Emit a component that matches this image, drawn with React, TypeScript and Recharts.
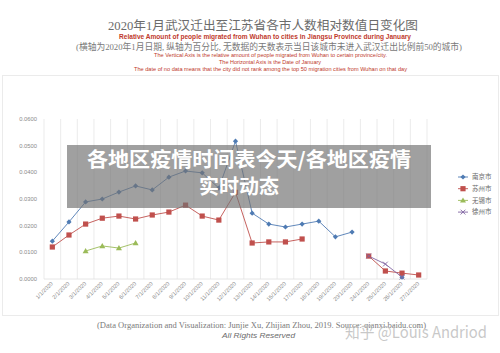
import React from 'react';
import { LineChart, Line, XAxis, YAxis, CartesianGrid } from 'recharts';

const categories = ['1/1/2020','2/1/2020','3/1/2020','4/1/2020','5/1/2020','6/1/2020','7/1/2020','8/1/2020','9/1/2020','10/1/2020','11/1/2020','12/1/2020','13/1/2020','14/1/2020','15/1/2020','17/1/2020','18/1/2020','19/1/2020','20/1/2020','24/1/2020','25/1/2020','26/1/2020','27/1/2020'];

const nanjing = [0.0142,0.0214,0.0289,0.0300,0.0326,0.0349,0.0334,0.0382,0.0405,0.0398,0.0341,0.0517,0.0247,0.0206,0.0195,0.0206,0.0217,0.0158,0.0176,null,null,0.0007,null];
const suzhou = [0.0120,0.0165,0.0206,0.0228,0.0236,0.0225,0.0240,0.0251,0.0277,0.0236,0.0221,0.0325,0.0135,0.0139,0.0139,0.0150,null,null,null,0.0086,0.0030,0.0022,0.0015];
const wuxi = [null,null,0.0105,0.0124,0.0116,0.0135,null,null,null,null,null,null,null,null,null,null,null,null,null,null,null,null,null];
const xuzhou = [null,null,null,null,null,null,null,null,null,null,null,null,null,null,null,null,null,null,null,0.0086,0.0056,0.0007,null];

const yTicks = [0, 0.01, 0.02, 0.03, 0.04, 0.05, 0.06];

const seriesDefs = [
  { key: 'nanjing', name: '南京市', color: '#4f7bb3', marker: 'diamond' },
  { key: 'suzhou', name: '苏州市', color: '#c0504d', marker: 'square' },
  { key: 'wuxi', name: '无锡市', color: '#9bbb59', marker: 'triangle' },
  { key: 'xuzhou', name: '徐州市', color: '#8064a2', marker: 'cross' },
];

const data = categories.map((c, i) => ({
  date: c,
  nanjing: nanjing[i],
  suzhou: suzhou[i],
  wuxi: wuxi[i],
  xuzhou: xuzhou[i],
}));

function MarkerShape({ type, cx, cy, color }: any) {
  const s = 2.6;
  if (type === 'diamond') {
    return <path d={`M${cx},${cy - s}L${cx + s},${cy}L${cx},${cy + s}L${cx - s},${cy}Z`} fill={color} />;
  }
  if (type === 'square') {
    return <rect x={cx - 2.6} y={cy - 2.6} width={5.2} height={5.2} fill={color} />;
  }
  if (type === 'triangle') {
    return <path d={`M${cx},${cy - 3}L${cx + 3},${cy + 2.2}L${cx - 3},${cy + 2.2}Z`} fill={color} />;
  }
  return (
    <g stroke={color} strokeWidth={0.9}>
      <line x1={cx - 2.4} y1={cy - 2.4} x2={cx + 2.4} y2={cy + 2.4} />
      <line x1={cx - 2.4} y1={cy + 2.4} x2={cx + 2.4} y2={cy - 2.4} />
    </g>
  );
}

const makeDot = (type: string, color: string) => (props: any) => {
  const { cx, cy, value, index } = props;
  if (value == null || cx == null || cy == null) return <g key={`d-${type}-${index}`} />;
  return <g key={`d-${type}-${index}`}><MarkerShape type={type} cx={cx} cy={cy} color={color} /></g>;
};

const XTick = (props: any) => {
  const { x, y, payload } = props;
  return (
    <g transform={`translate(${x + 1},${y})`}>
      <text x={0} y={0} textAnchor="end" fontSize={5.6} fill="#8a8a8a" fontFamily="Liberation Sans, Arial, sans-serif" transform="rotate(-45)">
        {payload.value}
      </text>
    </g>
  );
};

const serif = '"Liberation Serif", "Noto Sans CJK SC", serif';
const sans = '"Liberation Sans", "Noto Sans CJK SC", sans-serif';

export default function App() {
  return (
    <div style={{ position: 'fixed', left: 0, top: 0, width: 500, height: 353, background: '#fff', overflow: 'hidden' }}>
      <div style={{ position: 'absolute', left: 2, top: 75, width: 495, height: 239, border: '1px solid #ebebeb', background: '#fff' }} />
      <div style={{ position: 'absolute', left: 0, top: 0 }}>
        <LineChart width={500} height={353} data={data} margin={{ top: 119, right: 73, bottom: 34, left: 0 }}>
          <CartesianGrid
            horizontal={false}
            stroke="#e6e6e6"
            strokeWidth={0.8}
            verticalCoordinatesGenerator={({ offset }: any) =>
              Array.from({ length: categories.length + 1 }, (_, i) => offset.left + (offset.width * i) / categories.length)
            }
          />
          <XAxis
            dataKey="date"
            scale="band"
            interval={0}
            height={40}
            tickSize={0}
            tickMargin={5}
            tickLine={false}
            axisLine={{ stroke: '#e0e0e0', strokeWidth: 0.8 }}
            tick={<XTick />}
          />
          <YAxis
            width={44}
            domain={[0, 0.06]}
            ticks={yTicks}
            tickFormatter={(v: number) => v.toFixed(4)}
            tickSize={0}
            tickMargin={7}
            tickLine={false}
            axisLine={false}
            tick={{ fontSize: 5.8, fill: '#8a8a8a', fontFamily: 'Liberation Sans, Arial, sans-serif' }}
          />
          {seriesDefs.map((s) => (
            <Line
              key={s.key}
              dataKey={s.key}
              name={s.name}
              stroke={s.color}
              strokeWidth={0.9}
              dot={makeDot(s.marker, s.color)}
              activeDot={false}
              connectNulls={false}
              isAnimationActive={false}
              type="linear"
            />
          ))}
        </LineChart>
      </div>
      <div style={{ position: 'absolute', left: 67, top: 145, width: 364, height: 63, background: 'rgba(115,115,115,0.68)' }} />
      <svg width={500} height={353} style={{ position: 'absolute', left: 0, top: 0, pointerEvents: 'none' }}>
        <text x={263} y={29.5} textAnchor="middle" fontSize={12.5} fill="#6b6b6b" fontFamily={serif} textLength={310} lengthAdjust="spacingAndGlyphs">2020年1月武汉迁出至江苏省各市人数相对数值日变化图</text>
        <text x={265} y={38.5} textAnchor="middle" fontSize={6.4} fontWeight={700} fill="#c0392b" fontFamily={sans} textLength={292} lengthAdjust="spacingAndGlyphs">Relative Amount of people migrated from Wuhan to cities in Jiangsu Province during January</text>
        <text x={269} y={49.5} textAnchor="middle" fontSize={9} fill="#7a7a7a" fontFamily={serif} textLength={386} lengthAdjust="spacingAndGlyphs">(横轴为2020年1月日期, 纵轴为百分比, 无数据的天数表示当日该城市未进入武汉迁出比例前50的城市)</text>
        <text x={270.5} y={56.5} textAnchor="middle" fontSize={4.8} fill="#c0392b" fontFamily={sans} textLength={233} lengthAdjust="spacingAndGlyphs">The Vertical Axis is the relative amount of people migrated from Wuhan to certain province/city.</text>
        <text x={270} y={63.5} textAnchor="middle" fontSize={4.8} fill="#c0392b" fontFamily={sans} textLength={102} lengthAdjust="spacingAndGlyphs">The Horizontal Axis is the Date of January</text>
        <text x={270.5} y={71} textAnchor="middle" fontSize={4.8} fill="#c0392b" fontFamily={sans} textLength={273} lengthAdjust="spacingAndGlyphs">The date of no data means that the city did not rank among the top 50 migration cities from Wuhan on that day</text>

        {seriesDefs.map((s, i) => {
          const y = 177 + i * 11.7;
          return (
            <g key={s.key}>
              <line x1={458} y1={y} x2={468} y2={y} stroke={s.color} strokeWidth={0.9} />
              <MarkerShape type={s.marker} cx={463} cy={y} color={s.color} />
              <text x={472} y={y + 2.2} fontSize={6.5} fill="#6b6b6b" fontFamily={serif}>{s.name}</text>
            </g>
          );
        })}

        <text x={249} y={167} textAnchor="middle" fontSize={20} fontWeight={700} fill="#ffffff" fontFamily='"Noto Sans CJK SC", sans-serif' textLength={324} lengthAdjust="spacingAndGlyphs">各地区疫情时间表今天/各地区疫情</text>
        <text x={239} y={194} textAnchor="middle" fontSize={20} fontWeight={700} fill="#ffffff" fontFamily='"Noto Sans CJK SC", sans-serif'>实时动态</text>

        <text x={261.5} y={328} textAnchor="middle" fontSize={8} fill="#7a7a7a" fontFamily={serif} textLength={329} lengthAdjust="spacingAndGlyphs">(Data Organization and Visualization: Junjie Xu, Zhijian Zhou, 2019. Source: qianxi.baidu.com)</text>
        <text x={258.5} y={338} textAnchor="middle" fontSize={7.5} fontStyle="italic" fill="#6b6b6b" fontFamily={sans} textLength={73} lengthAdjust="spacingAndGlyphs">All Rights Reserved</text>
        <text x={416} y={338} textAnchor="middle" fontSize={16} fill="rgba(190,190,190,0.85)" fontFamily='"Noto Sans CJK SC", sans-serif' textLength={142} lengthAdjust="spacingAndGlyphs">知乎 @Louis Andriod</text>
      </svg>
    </div>
  );
}
